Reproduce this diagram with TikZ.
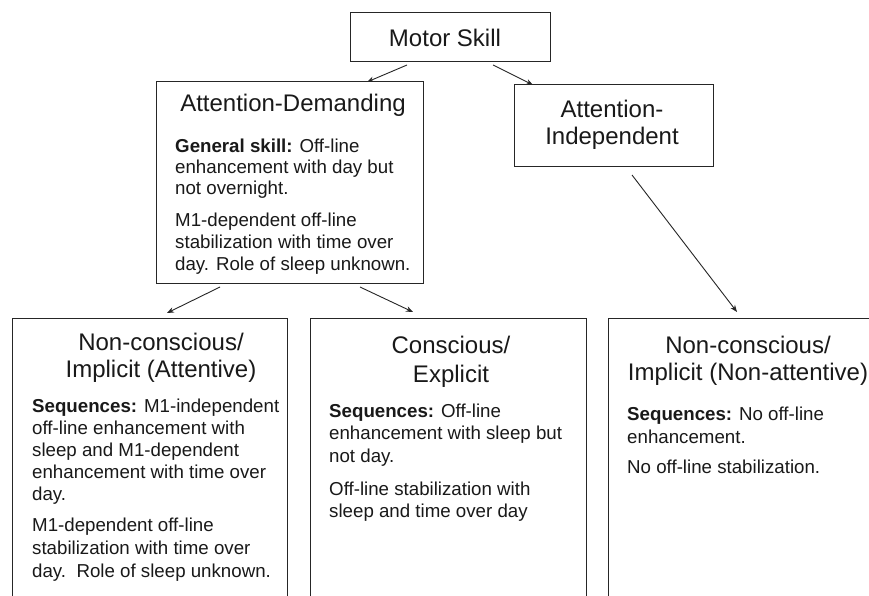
\documentclass[tikz,border=0pt]{standalone}
\usepackage{fontspec}
\setmainfont{Liberation Sans}
\usetikzlibrary{arrows.meta}
\tikzset{
  box/.style={draw=black!85, line width=1pt, inner sep=0pt, outer sep=0pt, fill=none},
  head/.style={font=\fontsize{24}{27}\selectfont, align=center, inner sep=0pt, anchor=base, text=black!90},
  body/.style={font=\fontsize{18.7}{22}\selectfont, align=left, inner sep=0pt, anchor=base west, text=black!90},
  conn/.style={draw=black!85, line width=0.9pt, -{Stealth[length=7pt,width=5.5pt]}}
}
\begin{document}
\begin{tikzpicture}[x=1pt,y=-1pt]
\useasboundingbox (0,0) rectangle (869,596);
\clip (0,0) rectangle (869,596);
\fill[white] (0,0) rectangle (869,596);
% boxes
\node[box, minimum width=200pt, minimum height=49pt] (ms) at (450,37.5) {};
\node[box, minimum width=267pt, minimum height=201pt] (ad) at (289.5,182.5) {};
\node[box, minimum width=199pt, minimum height=82pt] (ai) at (613.5,126) {};
\node[box, minimum width=275pt, minimum height=322pt] (nc) at (149.5,479) {};
\node[box, minimum width=276pt, minimum height=322pt] (ce) at (448,479) {};
\node[box, minimum width=292pt, minimum height=322pt] (nn) at (754,479) {};
% headings (base anchor = baseline of last line)
\node[head] (msT) at (445,47) {Motor Skill};
\node[head] (adT) at (293,112) {Attention-Demanding};
\node[head] (aiT) at (612,145) {Attention-\\Independent};
\node[head] (ncT) at (161,377) {Non-conscious/\\Implicit (Attentive)};
\node[head, font=\fontsize{24}{29}\selectfont] (ceT) at (451,382) {Conscious/\\Explicit};
\node[head] (nnT) at (748,380) {Non-conscious/\\Implicit (Non-attentive)};
% bodies (base anchor = baseline of last line)
\node[body, font=\fontsize{18.7}{21}\selectfont] (adA) at (175,194) {\textbf{General skill:} Off-line\\enhancement with day but\\not overnight.};
\node[body] (adB) at (175,270) {M1-dependent off-line\\stabilization with time over\\day. Role of sleep unknown.};
\node[body] (ncA) at (32,500) {\textbf{Sequences:} M1-independent\\off-line enhancement with\\sleep and M1-dependent\\enhancement with time over\\day.};
\node[body, font=\fontsize{18.7}{23}\selectfont] (ncB) at (32,577) {M1-dependent off-line\\stabilization with time over\\day.\ \ Role of sleep unknown.};
\node[body, font=\fontsize{18.7}{22.5}\selectfont] (ceA) at (329,462) {\textbf{Sequences:} Off-line\\enhancement with sleep but\\not day.};
\node[body] (ceB) at (329,517) {Off-line stabilization with\\sleep and time over day};
\node[body, font=\fontsize{18.7}{23}\selectfont] (nnA) at (627,443) {\textbf{Sequences:} No off-line\\enhancement.};
\node[body] (nnB) at (627,473) {No off-line stabilization.};
% connectors
\draw[conn] ([xshift=57pt,yshift=-3pt]ms.south west) -- ([xshift=211pt]ad.north west);
\draw[conn] ([xshift=143pt,yshift=-3pt]ms.south west) -- ([xshift=19pt]ai.north west);
\draw[conn] ([xshift=64pt,yshift=-4pt]ad.south west) -- ([xshift=155pt,yshift=5pt]nc.north west);
\draw[conn] ([xshift=204pt,yshift=-4pt]ad.south west) -- ([xshift=103pt,yshift=6pt]ce.north west);
\draw[conn] ([xshift=118pt,yshift=-8pt]ai.south west) -- ([xshift=129pt,yshift=6pt]nn.north west);
\end{tikzpicture}
\end{document}
